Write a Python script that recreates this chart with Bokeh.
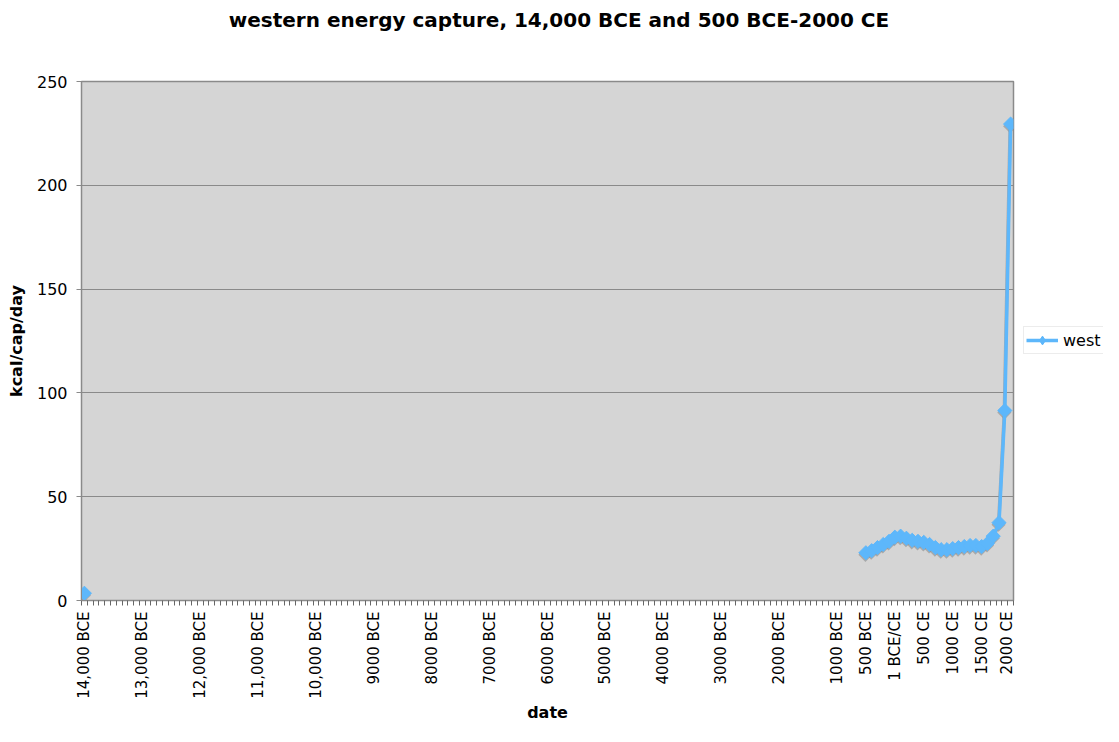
import numpy as np
from bokeh.plotting import figure
from bokeh.layouts import column, row
from bokeh.models import (Range1d, FixedTicker, Legend, LegendItem, ColumnDataSource,
                          Label)
from bokeh.transform import dodge
from bokeh.embed import file_html
from bokeh.resources import INLINE

# ---- data (kcal/cap/day, thousands) ----
ice_age_year = [-14000]
ice_age_value = [3.5]

years = [-500, -400, -300, -200, -100, 0, 100, 200, 300, 400, 500, 600, 700,
         800, 900, 1000, 1100, 1200, 1300, 1400, 1500, 1600, 1700, 1800, 1900, 2000]
values = [23.0, 24.0, 25.5, 27.0, 28.5, 30.5, 31.0, 30.0, 29.0, 28.5, 28.0, 27.0, 25.5,
          24.5, 24.5, 25.0, 25.5, 26.0, 26.5, 26.5, 26.0, 27.5, 31.0, 37.5, 91.5, 229.5]

tick_years = [-14000, -13000, -12000, -11000, -10000, -9000, -8000, -7000, -6000,
              -5000, -4000, -3000, -2000, -1000, -500, 0, 500, 1000, 1500, 2000]
tick_labels = ["14,000 BCE", "13,000 BCE", "12,000 BCE", "11,000 BCE", "10,000 BCE",
               "9000 BCE", "8000 BCE", "7000 BCE", "6000 BCE", "5000 BCE", "4000 BCE",
               "3000 BCE", "2000 BCE", "1000 BCE", "500 BCE", "1 BCE/CE", "500 CE",
               "1000 CE", "1500 CE", "2000 CE"]
category_step = 100
y_ticks = [0, 50, 100, 150, 200, 250]

TITLE = "western energy capture, 14,000 BCE and 500 BCE-2000 CE"
SERIES = "west"
LINE = "#5DB7FB"
SHADOW = "#8c8c8c"
FONT = "DejaVu Sans"

x_start = ice_age_year[0] - category_step / 2
x_end = years[-1] + category_step / 2

# ---------------- title strip ----------------
TW, TH = 1103, 40
pt = figure(width=TW, height=TH, output_backend="svg", toolbar_location=None,
            x_range=Range1d(0, TW), y_range=Range1d(0, TH), min_border=0)
pt.axis.visible = False
pt.grid.grid_line_color = None
pt.outline_line_color = None
pt.add_layout(Label(x=TW / 2 + 7, y=TH / 2 + 1, text=TITLE, text_align="center",
                    text_baseline="middle", text_font=FONT, text_font_size="20px",
                    text_font_style="bold", text_color="black"))

# ---------------- main plot ----------------
p = figure(width=1015, height=686, output_backend="svg", toolbar_location=None,
           x_range=Range1d(x_start, x_end), y_range=Range1d(0, 250),
           min_border_left=81, min_border_right=2, min_border_top=41, min_border_bottom=126)

p.background_fill_color = "#D5D5D5"
p.border_fill_color = "white"
p.outline_line_color = "#8a8a8a"
p.outline_line_width = 1.5

p.xgrid.grid_line_color = None
p.ygrid.grid_line_color = "#8a8a8a"
p.ygrid.grid_line_width = 1

# y axis
p.yaxis.ticker = FixedTicker(ticks=y_ticks)
p.yaxis.axis_label = "kcal/cap/day"
p.yaxis.axis_label_text_font = FONT
p.yaxis.axis_label_text_font_size = "16px"
p.yaxis.axis_label_text_font_style = "bold"
p.yaxis.axis_label_text_color = "black"
p.yaxis.axis_label_standoff = 8
p.yaxis.major_label_text_font = FONT
p.yaxis.major_label_text_font_size = "16px"
p.yaxis.major_label_text_color = "black"
p.yaxis.axis_line_color = "#8a8a8a"
p.yaxis.major_tick_line_color = "#8a8a8a"
p.yaxis.major_tick_out = 5
p.yaxis.major_tick_in = 0
p.yaxis.minor_tick_line_color = None
p.yaxis.major_label_standoff = 9

# x axis (category-like, 100-year slots)
n_slots = int(round((x_end - x_start) / category_step))
boundaries = [x_start + category_step * k for k in range(n_slots + 1)]
p.xaxis.ticker = FixedTicker(ticks=tick_years, minor_ticks=boundaries)
p.xaxis.major_label_overrides = {t: l for t, l in zip(tick_years, tick_labels)}
p.xaxis.major_label_orientation = np.pi / 2
p.xaxis.major_label_text_font = FONT
p.xaxis.major_label_text_font_size = "15px"
p.xaxis.major_label_text_color = "black"
p.xaxis.major_tick_line_color = None
p.xaxis.major_tick_out = 0
p.xaxis.major_tick_in = 0
p.xaxis.minor_tick_line_color = "#666666"
p.xaxis.minor_tick_out = 5
p.xaxis.minor_tick_in = 0
p.xaxis.axis_line_color = "#8a8a8a"
p.xaxis.major_label_standoff = 6
p.xaxis.axis_label = "date"
p.xaxis.axis_label_text_font = FONT
p.xaxis.axis_label_text_font_size = "16px"
p.xaxis.axis_label_text_font_style = "bold"
p.xaxis.axis_label_text_color = "black"
p.xaxis.axis_label_standoff = 1

src = ColumnDataSource(dict(x=years, y=values))
src0 = ColumnDataSource(dict(x=ice_age_year, y=ice_age_value))

# soft drop shadow
for s in (src, src0):
    p.scatter(x=dodge("x", -8), y=dodge("y", -1.0), source=s, marker="square",
              angle=np.pi / 4, size=10, fill_color=SHADOW, line_color=None, alpha=0.6)
p.line(x=dodge("x", -8), y=dodge("y", -1.0), source=src, line_color=SHADOW,
       line_width=3.5, alpha=0.6)

p.line(x="x", y="y", source=src, line_color=LINE, line_width=3.5)
p.scatter(x="x", y="y", source=src, marker="square", angle=np.pi / 4, size=10,
          fill_color=LINE, line_color=LINE)
p.scatter(x="x", y="y", source=src0, marker="square", angle=np.pi / 4, size=10,
          fill_color=LINE, line_color=LINE)

# ---------------- legend strip (frame aligned with the main plot) ----------------
LH = 686
pl = figure(width=88, height=LH, output_backend="svg", toolbar_location=None,
            x_range=Range1d(0, 1), y_range=Range1d(0, 1), min_border=0)
pl.axis.visible = False
pl.grid.grid_line_color = None
pl.outline_line_color = None
# same series, falls outside this strip's ranges so only the legend swatch shows
lk = pl.line(x="x", y="y", source=src, line_color=LINE, line_width=3.5)
mk = pl.scatter(x="x", y="y", source=src, marker="diamond", size=15,
                fill_color=LINE, line_color=LINE)
legend = Legend(items=[LegendItem(label=SERIES, renderers=[lk, mk])],
                location=(8, 246), orientation="vertical")
legend.label_text_font = FONT
legend.label_text_font_size = "16px"
legend.label_text_color = "black"
legend.border_line_color = "#d9d9d9"
legend.background_fill_color = "white"
legend.padding = 2
legend.margin = 0
legend.spacing = 0
legend.glyph_width = 32
legend.glyph_height = 22
legend.label_standoff = 5
legend.label_height = 22
pl.add_layout(legend, "center")

layout = column(pt, row(p, pl, spacing=0), spacing=0)
open("out.html", "w").write(file_html(layout, INLINE))
